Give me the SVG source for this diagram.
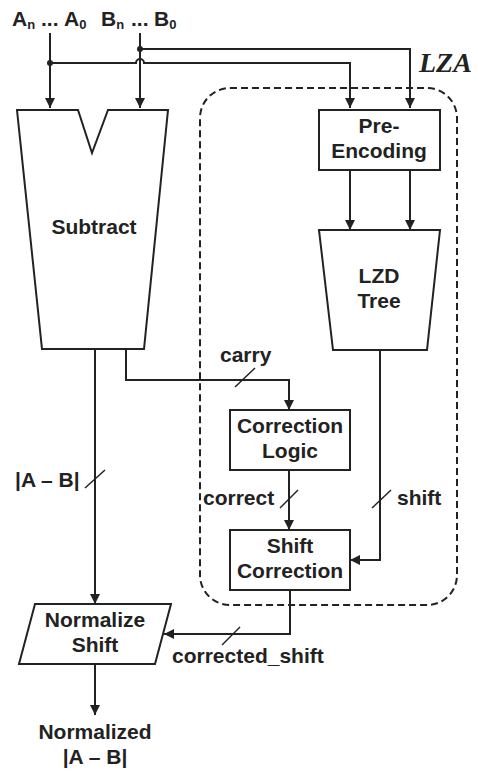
<svg xmlns="http://www.w3.org/2000/svg" width="478" height="774" viewBox="0 0 478 774">
<style>
.box{fill:#fff;stroke:#222;stroke-width:2}
.ln{fill:none;stroke:#222;stroke-width:2}
.sl{fill:none;stroke:#222;stroke-width:1.5}
.t{font-family:"Liberation Sans",Arial,sans-serif;font-weight:bold;font-size:21px;fill:#222}
.c{text-anchor:middle}
.sub{font-size:13px}
</style>
<defs>
<marker id="ah" viewBox="0 0 10 10" refX="10" refY="5" markerWidth="10" markerHeight="10" markerUnits="userSpaceOnUse" orient="auto">
<path d="M0,0 L10,5 L0,10 Z" fill="#222"/>
</marker>
</defs>
<rect width="478" height="774" fill="#fff"/>
<g id="inputs">
<text class="t" y="26"><tspan x="12">A</tspan><tspan class="sub" dy="3">n</tspan><tspan dy="-3" x="41">...</tspan><tspan x="64">A</tspan><tspan class="sub" dy="3">0</tspan><tspan dy="-3" x="101">B</tspan><tspan class="sub" dy="3">n</tspan><tspan dy="-3" x="131">...</tspan><tspan x="154">B</tspan><tspan class="sub" dy="3">0</tspan></text>
</g>
<g id="lza-region">
<rect x="200" y="88" width="257" height="517" rx="30" ry="30" fill="none" stroke="#222" stroke-width="2" stroke-dasharray="7 4"/>
<text x="419" y="72" font-family="Liberation Serif,'Times New Roman',serif" font-style="italic" font-weight="bold" font-size="28" fill="#222">LZA</text>
</g>
<g id="connectors">
<path class="ln" d="M50,33 V108" marker-end="url(#ah)"/>
<path class="ln" d="M140,33 V108" marker-end="url(#ah)"/>
<path class="ln" d="M140,49 H410 V108" marker-end="url(#ah)"/>
<path class="ln" d="M50,63 H136 A4,4 0 0 1 144,63 H350 V108" marker-end="url(#ah)"/>
<circle cx="140" cy="49" r="3" fill="#222"/>
<circle cx="50" cy="63" r="3" fill="#222"/>
<path class="ln" d="M350,170 V230" marker-end="url(#ah)"/>
<path class="ln" d="M410,170 V230" marker-end="url(#ah)"/>
<path class="ln" d="M126,349 V380 H289 V410" marker-end="url(#ah)"/>
<path class="sl" d="M235,387 L255,368"/>
<text class="t" x="220" y="362">carry</text>
<path class="ln" d="M289,470 V530" marker-end="url(#ah)"/>
<path class="sl" d="M280,508 L298,490"/>
<text class="t" x="203" y="505">correct</text>
<path class="ln" d="M380,350 V560 H350" marker-end="url(#ah)"/>
<path class="sl" d="M372,508 L391,490"/>
<text class="t" x="397" y="505">shift</text>
<path class="ln" d="M95,349 V604" marker-end="url(#ah)"/>
<path class="sl" d="M85,488 L105,470"/>
<text class="t" x="15" y="487">|A – B|</text>
<path class="ln" d="M290,590 V634 H164" marker-end="url(#ah)"/>
<path class="sl" d="M222,645 L240,627"/>
<text class="t" x="172" y="663">corrected_shift</text>
<path class="ln" d="M95,664 V715" marker-end="url(#ah)"/>
</g>
<g id="subtract">
<path class="box" d="M17,110 H78 L92,153 L108,110 H168 L144,349 H42 Z"/>
<text class="t c" x="94" y="234">Subtract</text>
</g>
<g id="pre-encoding">
<rect class="box" x="319" y="110" width="121" height="60"/>
<text class="t c" x="379" y="133">Pre-</text>
<text class="t c" x="379" y="158">Encoding</text>
</g>
<g id="lzd-tree">
<path class="box" d="M319,230 H440 L427,350 H333 Z"/>
<text class="t c" x="379" y="283">LZD</text>
<text class="t c" x="379" y="308">Tree</text>
</g>
<g id="correction-logic">
<rect class="box" x="230" y="410" width="120" height="60"/>
<text class="t c" x="290" y="433">Correction</text>
<text class="t c" x="290" y="458">Logic</text>
</g>
<g id="shift-correction">
<rect class="box" x="230" y="530" width="120" height="60"/>
<text class="t c" x="290" y="553">Shift</text>
<text class="t c" x="290" y="578">Correction</text>
</g>
<g id="normalize-shift">
<path class="box" d="M35,604 H171 L155,664 H19 Z"/>
<text class="t c" x="95" y="627">Normalize</text>
<text class="t c" x="95" y="652">Shift</text>
</g>
<g id="output">
<text class="t c" x="95" y="739">Normalized</text>
<text class="t c" x="95" y="764">|A – B|</text>
</g>
</svg>
